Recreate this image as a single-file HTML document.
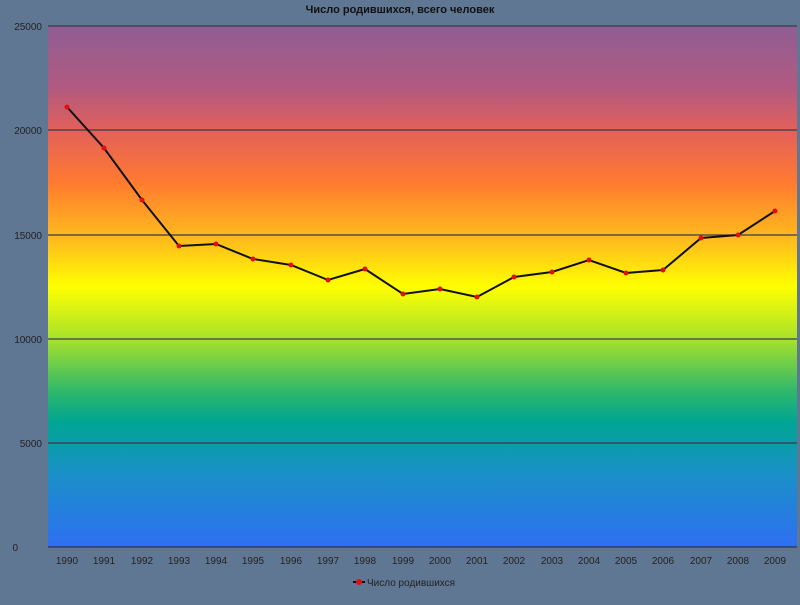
<!DOCTYPE html>
<html><head><meta charset="utf-8"><style>
body{margin:0;width:800px;height:600px;background:#5f7793;overflow:hidden;font-family:"Liberation Sans",sans-serif}
</style></head><body>
<svg width="800" height="600" xmlns="http://www.w3.org/2000/svg">
<defs><linearGradient id="g" x1="0" y1="0" x2="0" y2="1">
<stop offset="0" stop-color="#8f5d94"/>
<stop offset="0.12" stop-color="#b25a80"/>
<stop offset="0.2" stop-color="#e2605a"/>
<stop offset="0.3" stop-color="#ff7a30"/>
<stop offset="0.42" stop-color="#ffc21a"/>
<stop offset="0.5" stop-color="#ffff00"/>
<stop offset="0.6" stop-color="#a8e22a"/>
<stop offset="0.7" stop-color="#30b86a"/>
<stop offset="0.76" stop-color="#00a592"/>
<stop offset="0.86" stop-color="#1a90c8"/>
<stop offset="1" stop-color="#2e6ff2"/>
</linearGradient></defs>
<rect x="48" y="26" width="749" height="521" fill="url(#g)"/>
<g stroke="#3a3a4a" stroke-width="1.2">
<line x1="48" y1="26" x2="797" y2="26"/><line x1="48" y1="130" x2="797" y2="130"/>
<line x1="48" y1="235" x2="797" y2="235"/><line x1="48" y1="339" x2="797" y2="339"/>
<line x1="48" y1="443" x2="797" y2="443"/><line x1="48" y1="547" x2="797" y2="547" stroke="#334"/>
</g>
<text x="400" y="13" text-anchor="middle" font-size="11" font-weight="bold" fill="#111">Число родившихся, всего человек</text>
<g font-size="10" fill="#222" text-anchor="end">
<text x="42" y="30">25000</text><text x="42" y="134">20000</text><text x="42" y="239">15000</text>
<text x="42" y="343">10000</text><text x="42" y="447">5000</text><text x="18" y="551">0</text>
</g>
<g font-size="10" fill="#222" text-anchor="middle">
<text x="67" y="564">1990</text><text x="104" y="564">1991</text><text x="142" y="564">1992</text><text x="179" y="564">1993</text><text x="216" y="564">1994</text><text x="253" y="564">1995</text><text x="291" y="564">1996</text><text x="328" y="564">1997</text><text x="365" y="564">1998</text><text x="403" y="564">1999</text><text x="440" y="564">2000</text><text x="477" y="564">2001</text><text x="514" y="564">2002</text><text x="552" y="564">2003</text><text x="589" y="564">2004</text><text x="626" y="564">2005</text><text x="663" y="564">2006</text><text x="701" y="564">2007</text><text x="738" y="564">2008</text><text x="775" y="564">2009</text>
</g>
<polyline fill="none" stroke="#111" stroke-width="2" points="67,107 104,148 142,200 179,246 216,244 253,259 291,265 328,280 365,269 403,294 440,289 477,297 514,277 552,272 589,260 626,273 663,270 701,238 738,235 775,211"/>
<g fill="#e01010">
<circle cx="67" cy="107" r="2.5"/><circle cx="104" cy="148" r="2.5"/><circle cx="142" cy="200" r="2.5"/><circle cx="179" cy="246" r="2.5"/><circle cx="216" cy="244" r="2.5"/><circle cx="253" cy="259" r="2.5"/><circle cx="291" cy="265" r="2.5"/><circle cx="328" cy="280" r="2.5"/><circle cx="365" cy="269" r="2.5"/><circle cx="403" cy="294" r="2.5"/><circle cx="440" cy="289" r="2.5"/><circle cx="477" cy="297" r="2.5"/><circle cx="514" cy="277" r="2.5"/><circle cx="552" cy="272" r="2.5"/><circle cx="589" cy="260" r="2.5"/><circle cx="626" cy="273" r="2.5"/><circle cx="663" cy="270" r="2.5"/><circle cx="701" cy="238" r="2.5"/><circle cx="738" cy="235" r="2.5"/><circle cx="775" cy="211" r="2.5"/>
</g>
<line x1="353" y1="582" x2="365" y2="582" stroke="#111" stroke-width="2"/>
<circle cx="359" cy="582" r="3" fill="#e01010"/>
<text x="367" y="586" font-size="10" fill="#222">Число родившихся</text>
</svg>
</body></html>
